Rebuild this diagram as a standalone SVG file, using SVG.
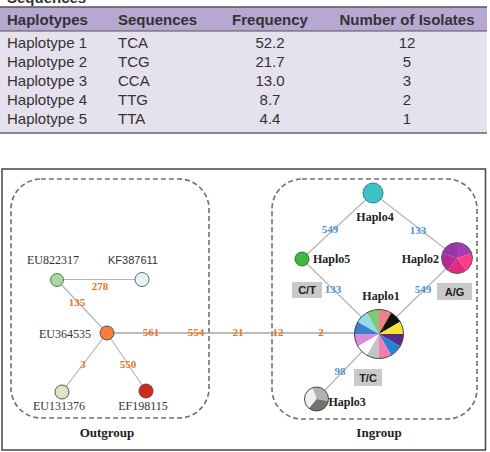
<svg xmlns="http://www.w3.org/2000/svg" width="490" height="452" viewBox="0 0 490 452">
<defs>
<style>
.th{font-family:"Liberation Sans",Arial,sans-serif;font-size:15px;font-weight:bold;fill:#333}
.td{font-family:"Liberation Sans",Arial,sans-serif;font-size:15px;fill:#333}
.c{text-anchor:middle}
.nl{font-family:"Liberation Serif","Times New Roman",serif;font-size:12px;fill:#333}
.hl{font-family:"Liberation Serif","Times New Roman",serif;font-size:12px;font-weight:bold;fill:#222}
.on{font-family:"Liberation Serif","Times New Roman",serif;font-size:11px;font-weight:bold;fill:#e87424;text-anchor:middle}
.bn{font-family:"Liberation Serif","Times New Roman",serif;font-size:11px;font-weight:bold;fill:#4a92d4;text-anchor:middle}
.grp{font-family:"Liberation Serif","Times New Roman",serif;font-size:13px;font-weight:bold;fill:#222;text-anchor:middle}
.box{fill:#c9c9c9}
.bt{font-family:"Liberation Sans",Arial,sans-serif;font-size:11px;font-weight:bold;fill:#222;text-anchor:middle}
.dash{fill:none;stroke:#6f6f6f;stroke-width:1.6;stroke-dasharray:5 3}
.edge{stroke:#b4b4b4;stroke-width:1.2;fill:none}
.ns{stroke:#444;stroke-width:0.9}
</style>
</defs>
<rect width="490" height="452" fill="#fff"/>
<!-- Table -->
<g id="table">
<text x="7" y="2.5" class="th">Sequences</text>
<rect x="0" y="7" width="487" height="24" fill="#b6a8d1"/>
<rect x="0" y="31" width="487" height="102" fill="#e5e1ed"/>
<line x1="0" y1="7" x2="487" y2="7" stroke="#555" stroke-width="1.5"/>
<line x1="0" y1="31" x2="487" y2="31" stroke="#555" stroke-width="1"/>
<line x1="0" y1="133" x2="487" y2="133" stroke="#666" stroke-width="1.5"/>
<text x="7" y="24.5" class="th">Haplotypes</text>
<text x="118" y="24.5" class="th">Sequences</text>
<text x="270" y="24.5" class="th c">Frequency</text>
<text x="407" y="24.5" class="th c">Number of Isolates</text>
<text x="7" y="48" class="td">Haplotype 1</text><text x="118" y="48" class="td">TCA</text><text x="270" y="48" class="td c">52.2</text><text x="407" y="48" class="td c">12</text>
<text x="7" y="67.3" class="td">Haplotype 2</text><text x="118" y="67.3" class="td">TCG</text><text x="270" y="67.3" class="td c">21.7</text><text x="407" y="67.3" class="td c">5</text>
<text x="7" y="86.4" class="td">Haplotype 3</text><text x="118" y="86.4" class="td">CCA</text><text x="270" y="86.4" class="td c">13.0</text><text x="407" y="86.4" class="td c">3</text>
<text x="7" y="105.4" class="td">Haplotype 4</text><text x="118" y="105.4" class="td">TTG</text><text x="270" y="105.4" class="td c">8.7</text><text x="407" y="105.4" class="td c">2</text>
<text x="7" y="124.4" class="td">Haplotype 5</text><text x="118" y="124.4" class="td">TTA</text><text x="270" y="124.4" class="td c">4.4</text><text x="407" y="124.4" class="td c">1</text>
</g>
<!-- Figure frame -->
<rect x="2" y="169" width="483.5" height="281" fill="#fff" stroke="#444" stroke-width="1.5"/>
<g id="outgroup-box"><rect x="11" y="179" width="198" height="239" rx="30" class="dash"/><text x="107" y="437" class="grp">Outgroup</text></g>
<g id="ingroup-box"><rect x="272" y="179" width="205" height="240" rx="30" class="dash"/><text x="379" y="437" class="grp">Ingroup</text></g>
<!-- connectors -->
<g id="connectors">
<line x1="57" y1="279.5" x2="142" y2="279.5" class="edge"/>
<line x1="57" y1="280" x2="107" y2="333" class="edge"/>
<line x1="107" y1="333" x2="62" y2="392" class="edge"/>
<line x1="107" y1="333" x2="146" y2="391" class="edge"/>
<line x1="107" y1="333" x2="379" y2="333" stroke="#a6a6a6" stroke-width="1.5"/>
<line x1="373" y1="193" x2="302" y2="259" class="edge"/>
<line x1="373" y1="193" x2="457" y2="258" class="edge"/>
<line x1="302" y1="259" x2="379" y2="334" class="edge"/>
<line x1="457" y1="258" x2="379" y2="334" class="edge"/>
<line x1="316.5" y1="399" x2="379" y2="334" class="edge"/>
<text x="100" y="290" class="on">278</text>
<text x="77" y="306" class="on">135</text>
<text x="151" y="336" class="on">561</text>
<text x="196" y="336" class="on">554</text>
<text x="238" y="336" class="on">21</text>
<text x="278" y="336" class="on">12</text>
<text x="321" y="336" class="on">2</text>
<text x="83" y="368" class="on">3</text>
<text x="128" y="368" class="on">550</text>
<text x="330" y="233" class="bn">549</text>
<text x="418" y="234" class="bn">133</text>
<text x="333" y="293" class="bn">133</text>
<text x="423" y="293" class="bn">549</text>
<text x="340" y="375" class="bn">98</text>
<rect x="292" y="282" width="30" height="16" class="box"/><text x="307" y="294" class="bt">C/T</text>
<rect x="437" y="283" width="35" height="17" class="box"/><text x="454.5" y="295.5" class="bt">A/G</text>
<rect x="354" y="369" width="28" height="17" class="box"/><text x="368" y="381.5" class="bt">T/C</text>
</g>
<!-- outgroup nodes -->
<g id="EU822317"><circle cx="57" cy="280" r="6.5" fill="#a6d9a0" stroke="#4a6a4a" stroke-width="0.9"/><text x="53" y="264" class="nl c">EU822317</text></g>
<g id="KF387611"><circle cx="142" cy="279.5" r="7" fill="#e8f4f4" stroke="#4a5a6a" stroke-width="0.9"/><text x="133" y="264" class="nl c" style="font-family:'Liberation Sans',Arial,sans-serif;font-size:11px">KF387611</text></g>
<g id="EU364535"><circle cx="107" cy="333" r="7" fill="#f97b3e" class="ns"/><text x="65" y="338" class="nl c">EU364535</text></g>
<g id="EU131376"><circle cx="62" cy="392" r="7" fill="#dde3c5" class="ns"/><text x="59" y="410" class="nl c">EU131376</text></g>
<g id="EF198115"><circle cx="146" cy="391" r="7" fill="#d42a1c" class="ns"/><text x="143" y="410" class="nl c">EF198115</text></g>
<!-- ingroup nodes -->
<g id="Haplo4"><circle cx="373" cy="193" r="10" fill="#3cc3c6" stroke="#2a7a7e" stroke-width="0.9"/><text x="375" y="221" class="hl c">Haplo4</text></g>
<g id="Haplo5"><circle cx="302" cy="259" r="7" fill="#3cb844" stroke="#2a6a2a" stroke-width="0.9"/><text x="313" y="263" class="hl">Haplo5</text></g>
<g id="Haplo2">
<path d="M457,258 L457,242.5 A15.5,15.5 0 0 1 471.74,253.21 Z" fill="#a43cb0"/>
<path d="M457,258 L471.74,253.21 A15.5,15.5 0 0 1 466.11,270.54 Z" fill="#ff3c8c"/>
<path d="M457,258 L466.11,270.54 A15.5,15.5 0 0 1 447.89,270.54 Z" fill="#e02a7c"/>
<path d="M457,258 L447.89,270.54 A15.5,15.5 0 0 1 442.26,253.21 Z" fill="#b22c94"/>
<path d="M457,258 L442.26,253.21 A15.5,15.5 0 0 1 457,242.5 Z" fill="#9638a8"/>
<circle cx="457" cy="258" r="15.5" fill="none" stroke="#555" stroke-width="0.9"/>
<text x="439" y="263" class="hl" text-anchor="end">Haplo2</text>
</g>
<g id="Haplo1">
<path d="M379,334 L379,309.5 A24.5,24.5 0 0 1 391.25,312.78 Z" fill="#f27f85"/>
<path d="M379,334 L391.25,312.78 A24.5,24.5 0 0 1 400.22,321.75 Z" fill="#111"/>
<path d="M379,334 L400.22,321.75 A24.5,24.5 0 0 1 403.5,334 Z" fill="#f7e337"/>
<path d="M379,334 L403.5,334 A24.5,24.5 0 0 1 400.22,346.25 Z" fill="#5a2a88"/>
<path d="M379,334 L400.22,346.25 A24.5,24.5 0 0 1 391.25,355.22 Z" fill="#2484d2"/>
<path d="M379,334 L391.25,355.22 A24.5,24.5 0 0 1 379,358.5 Z" fill="#f57ab8"/>
<path d="M379,334 L379,358.5 A24.5,24.5 0 0 1 366.75,355.22 Z" fill="#c4c4c4"/>
<path d="M379,334 L366.75,355.22 A24.5,24.5 0 0 1 357.78,346.25 Z" fill="#ffffff"/>
<path d="M379,334 L357.78,346.25 A24.5,24.5 0 0 1 354.5,334 Z" fill="#d98ad8"/>
<path d="M379,334 L354.5,334 A24.5,24.5 0 0 1 357.78,321.75 Z" fill="#3a7fd4"/>
<path d="M379,334 L357.78,321.75 A24.5,24.5 0 0 1 366.75,312.78 Z" fill="#93dbe9"/>
<path d="M379,334 L366.75,312.78 A24.5,24.5 0 0 1 379,309.5 Z" fill="#80c874"/>
<circle cx="379" cy="334" r="24.5" fill="none" stroke="#444" stroke-width="1"/>
<text x="381" y="300" class="hl c">Haplo1</text>
</g>
<g id="Haplo3">
<path d="M316.5,399 L312.4,387.72 A12,12 0 0 1 328.32,401.08 Z" fill="#b2b2b2"/>
<path d="M316.5,399 L328.32,401.08 A12,12 0 0 1 308.79,408.19 Z" fill="#727272"/>
<path d="M316.5,399 L308.79,408.19 A12,12 0 0 1 312.4,387.72 Z" fill="#f0f0f0"/>
<circle cx="316.5" cy="399" r="12" fill="none" stroke="#444" stroke-width="1"/>
<text x="328.5" y="406" class="hl">Haplo3</text>
</g>
</svg>
